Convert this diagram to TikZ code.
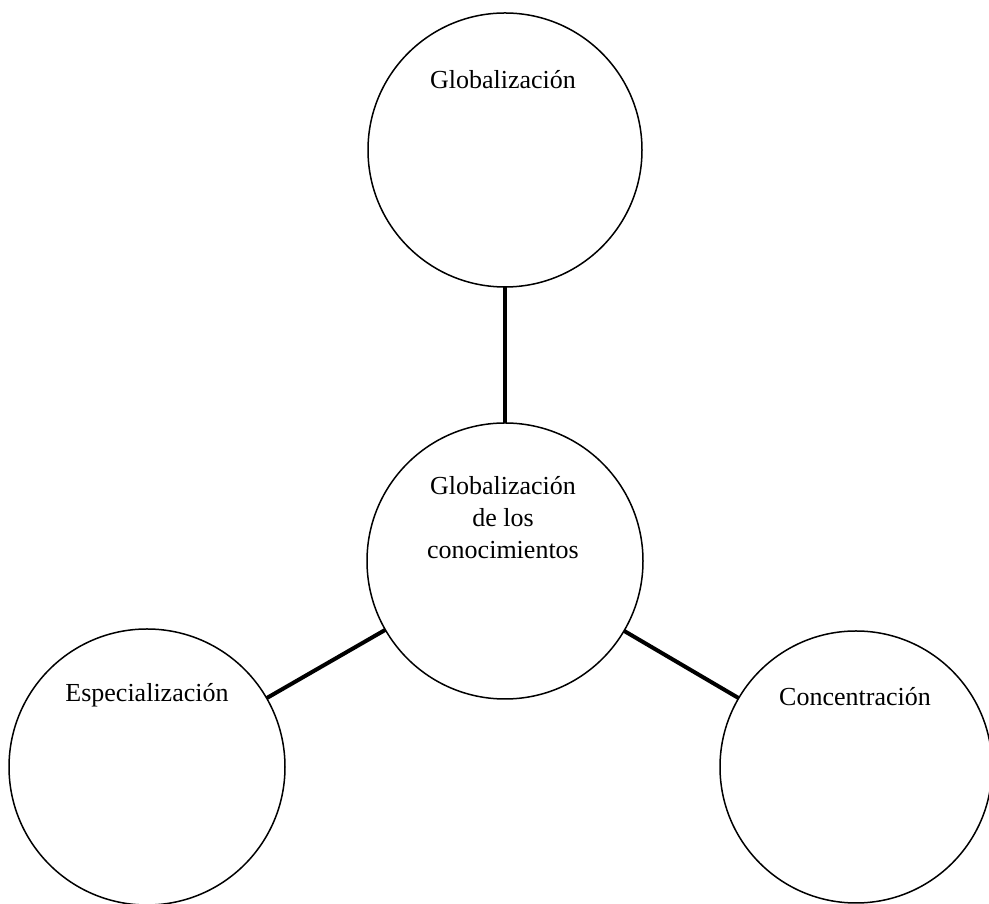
\documentclass[tikz,border=0pt]{standalone}
\usepackage{fontspec}
\setmainfont{Liberation Serif}
\begin{document}
\begin{tikzpicture}[x=1pt,y=1pt,
  bubble/.style={circle,draw=black,line width=1.5pt,inner sep=0pt,outer sep=0pt,fill=white},
  caption/.style={align=center,font=\fontsize{26}{32}\selectfont,inner sep=0pt},
  link/.style={draw=black,line width=4pt}]
\useasboundingbox (0,0) rectangle (989,904);
\fill[white] (0,0) rectangle (989,904);
% circles
\node[bubble,minimum size=274pt] (top) at (505,754) {};
\node[bubble,minimum size=276pt] (mid) at (505,343) {};
\node[bubble,minimum size=276pt] (left) at (147,137) {};
\node[bubble,minimum size=272pt] (right) at (856,137) {};
% connectors
\draw[link] (mid) -- (top);
\draw[link] (mid) -- (left);
\draw[link] (mid) -- (right);
% labels
\node[caption] (ttop) at (503,824) {Globalización};
\node[caption] (tmid) at (503,386) {Globalización\\de los\\conocimientos};
\node[caption] (tleft) at (147,209) {Especialización};
\node[caption] (tright) at (855,207) {Concentración};
\end{tikzpicture}
\end{document}
